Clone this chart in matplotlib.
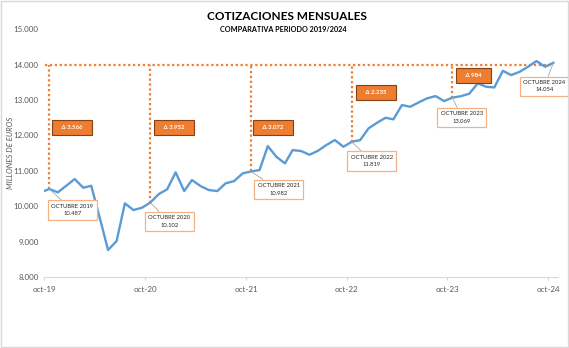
import matplotlib.pyplot as plt
import pandas as pd
from matplotlib.patches import Rectangle

# monthly quotes, sep-2019 .. oct-2024 (millions of euros)
values = [
    10395, 10487, 10393, 10576,
    10768, 10523, 10579, 9670, 8763, 9017, 10082, 9893, 9958, 10102, 10345, 10477,
    10958, 10429, 10740, 10571, 10458, 10429, 10647, 10712, 10929, 10982, 11023, 11700,
    11398, 11211, 11587, 11559, 11455, 11568, 11729, 11870, 11681, 11819, 11870, 12200,
    12359, 12500, 12455, 12859, 12811, 12935, 13048, 13113, 12972, 13069, 13110, 13180,
    13472, 13376, 13358, 13828, 13706, 13800, 13941, 14102, 13941, 14054,
]
dates = pd.date_range("2019-09-01", periods=len(values), freq="MS") + pd.Timedelta(days=18)

oct_years = [2019, 2020, 2021, 2022, 2023, 2024]
oct_values = [10487, 10102, 10982, 11819, 13069, 14054]
deltas = ["3.566", "3.952", "3.072", "2.235", "984"]
ref_level = 14000

BLUE = "#5B9BD5"
ORANGE = "#ED7D31"
GRAY = "#595959"

plt.rcParams["font.family"] = ["Lato", "DejaVu Sans"]

fig = plt.figure(figsize=(5.69, 3.48), dpi=100)
ax = fig.add_axes([0.0779, 0.204, 0.9024, 0.7118])

ax.plot(dates, values, color=BLUE, lw=1.7, solid_joinstyle="round", zorder=3)

oct_dates = [pd.Timestamp(f"{y}-10-19") for y in oct_years]

# reference level and vertical markers
ax.hlines(ref_level, pd.Timestamp("2019-10-05"), oct_dates[-1], color=ORANGE,
          lw=1.6, linestyle=(0, (1, 1.2)), zorder=2)
for d, v in zip(oct_dates[:-1], oct_values[:-1]):
    ax.vlines(d, v, ref_level, color=ORANGE, lw=1.6, linestyle=(0, (1, 1.2)), zorder=2)

# delta boxes
delta_offsets = [(22.5, -63), (24, -63), (22, -63), (24, -27.5), (21, -11)]
for d, txt, off in zip(oct_dates[:-1], deltas, delta_offsets):
    ax.annotate(f"   \u0394 {txt}   ", xy=(d, ref_level), xytext=off,
                textcoords="offset pixels", ha="center", va="center",
                fontsize=4.3, color="white", weight="bold",
                bbox=dict(boxstyle="square,pad=0.85", fc=ORANGE, ec="#8A4010", lw=0.8),
                zorder=5)

# value labels
label_offsets = [(23, -21), (19, -19), (27.6, -18), (20, -19), (9.5, -20), (-9, -23.5)]
for d, y, v, off in zip(oct_dates, oct_years, oct_values, label_offsets):
    txt = f"OCTUBRE {y}\n{v:,.0f}".replace(",", ".")
    ax.annotate(txt, xy=(d, v), xytext=off, textcoords="offset pixels",
                ha="center", va="center", fontsize=4.2, color="#262626",
                linespacing=1.6,
                bbox=dict(boxstyle="square,pad=0.6", fc="white", ec="#F4B183", lw=0.9),
                arrowprops=dict(arrowstyle="-", color="#A6A6A6", lw=0.6,
                                shrinkA=0, shrinkB=0),
                zorder=6)

ax.set_xlim(pd.Timestamp("2019-10-01"), pd.Timestamp("2024-11-04"))
ax.set_ylim(8000, 15000)
xt = [pd.Timestamp(f"{y}-10-01") for y in range(2019, 2025)]
ax.set_xticks(xt)
ax.set_xticklabels([f"oct-{y % 100}" for y in range(2019, 2025)])
yt = list(range(8000, 15001, 1000))
ax.set_yticks(yt)
ax.set_yticklabels([f"{v:,}".replace(",", ".") for v in yt])

for s in ["top", "right", "left"]:
    ax.spines[s].set_visible(False)
ax.spines["bottom"].set_color("#D9D9D9")
ax.spines["bottom"].set_linewidth(0.8)
ax.tick_params(axis="x", colors="#D9D9D9", labelcolor=GRAY, labelsize=5.8,
               length=2.5, width=0.8, pad=4)
ax.tick_params(axis="y", length=0, labelcolor=GRAY, labelsize=5.8, pad=4)

fig.text(287 / 569, 1 - 16.7 / 348, "COTIZACIONES MENSUALES", ha="center",
         va="center", fontsize=8.5, weight="bold", color="black")
fig.text(283.7 / 569, 1 - 29.8 / 348, "COMPARATIVA PERIODO 2019/2024", ha="center",
         va="center", fontsize=5.2, weight="bold", color="black")
fig.text(10.5 / 569, 1 - 153 / 348, "MILLONES DE EUROS", rotation=90, ha="center",
         va="center", fontsize=5.6, style="italic", color=GRAY)

fig.patches.append(Rectangle((0.001, 0.002), 0.997, 0.995, transform=fig.transFigure,
                             fill=False, ec="#D9D9D9", lw=1))

fig.savefig("out.png", dpi=100)
